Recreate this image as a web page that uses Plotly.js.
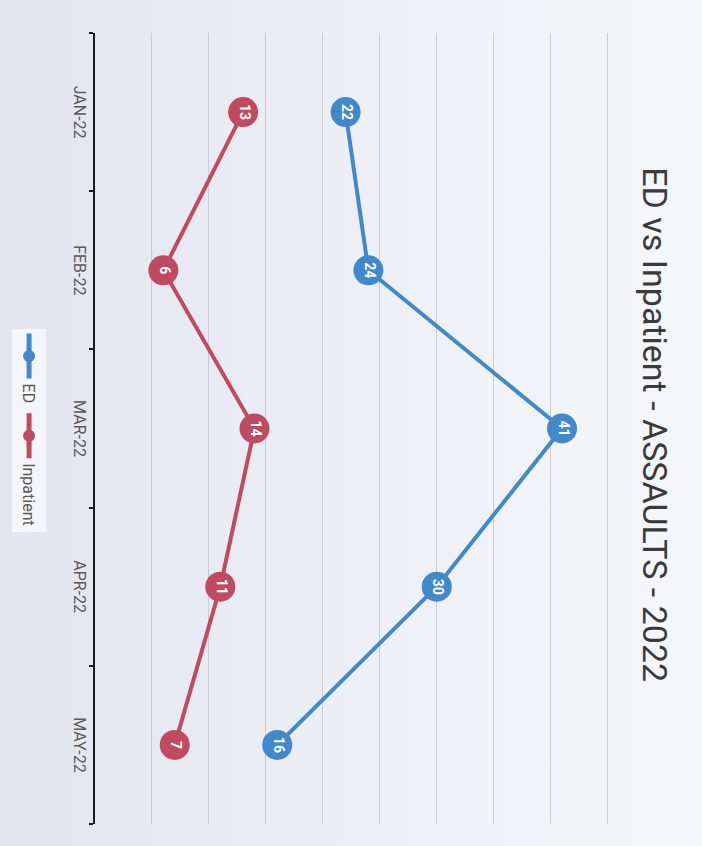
<!DOCTYPE html>
<html>
<head>
<meta charset="utf-8">
<script src="https://cdn.plot.ly/plotly-3.0.1.min.js"></script>
<style>
  html, body { margin: 0; padding: 0; width: 702px; height: 846px; overflow: hidden;
    background: linear-gradient(to right, #e3e5ee 0%, #eceef5 45%, #f6f7fa 100%); }
  #wrap { position: absolute; left: 0; top: 0; width: 846px; height: 702px;
    transform-origin: 0 0; transform: translateX(702px) rotate(90deg); }
</style>
</head>
<body>
<div id="wrap"><div id="chart"></div></div>
<script>
const months = ["JAN-22", "FEB-22", "MAR-22", "APR-22", "MAY-22"];
const edValues = [22, 24, 41, 30, 16];
const inpatientValues = [13, 6, 14, 11, 7];
const seriesNames = ["ED", "Inpatient"];
const chartTitle = "ED vs Inpatient - ASSAULTS - 2022";

const blue = "#4189cb";
const red = "#c14a63";
const FONT = "Roboto, 'Liberation Sans', sans-serif";

function lineTrace(y, name, color) {
  return {
    x: months, y: y, name: name, type: "scatter", mode: "lines+markers",
    line: { color: color, width: 4 },
    marker: { color: color, size: 30 },
    hoverinfo: "skip"
  };
}
function labelTrace(y) {
  return {
    x: months, y: y, type: "scatter", mode: "text",
    text: y.map(String), textposition: "middle center",
    textfont: { color: "#ffffff", size: 14, family: FONT, weight: "bold" },
    showlegend: false, hoverinfo: "skip"
  };
}

const data = [
  lineTrace(edValues, seriesNames[0], blue),
  lineTrace(inpatientValues, seriesNames[1], red),
  labelTrace(edValues),
  labelTrace(inpatientValues)
];

const layout = {
  width: 846, height: 702,
  margin: { l: 33, r: 22, t: 83, b: 95 },
  paper_bgcolor: "rgba(0,0,0,0)",
  plot_bgcolor: "rgba(0,0,0,0)",
  font: { family: FONT, color: "#595959" },
  title: {
    text: chartTitle,
    font: { size: 34, color: "#3a3a3a", family: FONT },
    x: 0.502, xanchor: "center", y: 0.933, yanchor: "middle"
  },
  xaxis: {
    type: "category", categoryorder: "array", categoryarray: months,
    range: [-0.5, 4.5],
    showline: true, linecolor: "#1a1a1a", linewidth: 2,
    ticks: "outside", tickson: "boundaries", ticklen: 4, tickcolor: "#1a1a1a", tickwidth: 2,
    tickfont: { size: 16, color: "#595959" },
    showgrid: false, zeroline: false, fixedrange: true
  },
  yaxis: {
    range: [0, 46], dtick: 5, tick0: 0,
    showticklabels: false, ticks: "",
    showgrid: true, gridcolor: "#c9cad3", gridwidth: 1,
    zeroline: false, showline: false, fixedrange: true
  },
  showlegend: true,
  legend: {
    orientation: "h", x: 0.502, xanchor: "center", y: -0.126, yanchor: "middle",
    bgcolor: "#f5f6f9", font: { size: 16, color: "#595959" },
    itemsizing: "constant", itemwidth: 45, traceorder: "normal"
  }
};

Plotly.newPlot("chart", data, layout, { staticPlot: true, displayModeBar: false });
</script>
</body>
</html>
